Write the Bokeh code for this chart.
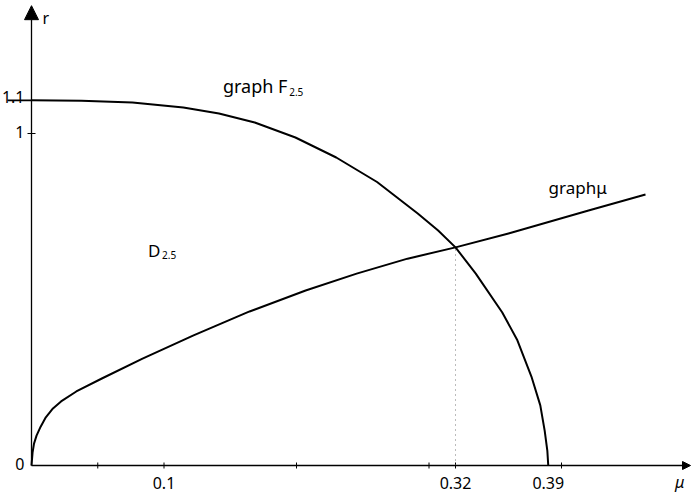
import math

from bokeh.core.properties import value
from bokeh.embed import file_html
from bokeh.models import Arrow, ColumnDataSource, NormalHead, Range1d
from bokeh.plotting import figure
from bokeh.resources import INLINE

# boundary curve F_{2.5} of the region D_{2.5}
f_mu = [0.0, 0.0377, 0.0762, 0.1146, 0.1415, 0.1685, 0.1992, 0.2300, 0.2608,
        0.2915, 0.3069, 0.32, 0.3353, 0.3553, 0.3667, 0.3773, 0.384, 0.3873,
        0.3893, 0.39]
f_r = [1.10, 1.0985, 1.0934, 1.0783, 1.0602, 1.0331, 0.988, 0.9277, 0.8539,
       0.759, 0.7078, 0.657, 0.578, 0.461, 0.377, 0.268, 0.181, 0.105,
       0.045, 0.0]

# graph of mu
g_mu = [0.0, 0.0008, 0.0019, 0.0038, 0.0069, 0.0108, 0.0162, 0.0223, 0.0338,
        0.0531, 0.0838, 0.1223, 0.1646, 0.2069, 0.2454, 0.2838, 0.32, 0.36,
        0.4204, 0.4634]
g_r = [0.0, 0.039, 0.066, 0.090, 0.117, 0.145, 0.172, 0.193, 0.223,
       0.262, 0.322, 0.392, 0.464, 0.527, 0.578, 0.623, 0.657, 0.699,
       0.768, 0.816]

# intersection of the two graphs
mu_cross = 0.32
r_cross = 0.657

# axis ticks and labels
x_tick_vals = [0.05, 0.1, 0.2, 0.3, 0.32, 0.4]
x_label_vals = [0.1, 0.32, 0.39]
x_label_text = ["0.1", "0.32", "0.39"]
y_label_vals = [0.0, 1.0, 1.1]
y_label_text = ["0", "1", "1.1"]

FONT = value("Noto Sans")

p = figure(
    width=692, height=494,
    x_range=Range1d(-31 / 1325, 661 / 1325),
    y_range=Range1d(-29 / 332, 465 / 332),
    x_axis_location=None, y_axis_location=None,
    output_backend="svg", toolbar_location=None,
    min_border=0, outline_line_color=None,
)
p.grid.visible = False
p.background_fill_color = "white"
p.border_fill_color = "white"

# axes with arrow heads
p.add_layout(Arrow(end=NormalHead(size=14, fill_color="black", line_color="black", line_width=1),
                   x_start=0, y_start=0, x_end=0, y_end=1.385,
                   line_color="black", line_width=1.3))
p.add_layout(Arrow(end=NormalHead(size=8, fill_color="black", line_color="black", line_width=1),
                   x_start=0, y_start=0, x_end=659 / 1325, y_end=0,
                   line_color="black", line_width=1.3))

# tick marks
p.dash(x=x_tick_vals, y=[0] * len(x_tick_vals), size=6, angle=math.pi / 2,
       line_color="black", line_width=1)
p.dash(x=[0], y=[1.0], size=8, line_color="black", line_width=1.2)
p.ray(x=[0], y=[1.1], length=24, length_units="screen", angle=math.pi,
      line_color="black", line_width=1.8)

# dotted guide at the crossing
p.segment(x0=[mu_cross], y0=[0], x1=[mu_cross], y1=[r_cross],
          line_color="#777777", line_width=1, line_dash="1 4")

# the two graphs
p.line(f_mu, f_r, line_color="black", line_width=2, line_join="round")
p.line(g_mu, g_r, line_color="black", line_width=2, line_join="round")

# tick labels on the mu axis
xs = ColumnDataSource(dict(x=x_label_vals, y=[0] * len(x_label_vals), t=x_label_text))
p.text(x="x", y="y", text="t", source=xs, text_align="center", text_baseline="top",
       y_offset=11, text_font=FONT, text_font_size="16px", text_color="black")

# tick labels on the r axis: "0" and "1" beside their ticks, "1.1" above its line
ys_low = ColumnDataSource(dict(x=[0, 0], y=y_label_vals[:2], t=y_label_text[:2]))
p.text(x="x", y="y", text="t", source=ys_low, text_align="right", text_baseline="middle",
       x_offset=-7, y_offset=-2, text_font=FONT, text_font_size="16px", text_color="black")
ys_top = ColumnDataSource(dict(x=[0], y=y_label_vals[2:], t=y_label_text[2:]))
p.text(x="x", y="y", text="t", source=ys_top, text_align="right", text_baseline="alphabetic",
       x_offset=-7, y_offset=-3, text_font=FONT, text_font_size="16px", text_color="black")

# axis names
p.text(x=[659 / 1325], y=[0], text=["\u03bc"], text_align="right", text_baseline="alphabetic",
       x_offset=-6, y_offset=16, text_font=FONT, text_font_style="italic",
       text_font_size="16px", text_color="black")
p.text(x=[0], y=[1.385], text=["r"], text_align="left", text_baseline="top",
       x_offset=11, y_offset=1, text_font=FONT, text_font_size="16px", text_color="black")

# curve and region names
p.text(x=[0.1445], y=[1.142], text=["graph F"], text_align="left", text_baseline="alphabetic",
       text_font=FONT, text_font_size="18px", text_color="black")
p.text(x=[0.1945], y=[1.126], text=["2.5"], text_align="left", text_baseline="alphabetic",
       text_font=FONT, text_font_size="10px", text_color="black")
p.text(x=[0.088], y=[0.649], text=["D"], text_align="left", text_baseline="alphabetic",
       text_font=FONT, text_font_size="17px", text_color="black")
p.text(x=[0.0985], y=[0.634], text=["2.5"], text_align="left", text_baseline="alphabetic",
       text_font=FONT, text_font_size="10px", text_color="black")
p.text(x=[0.3902], y=[0.838], text=["graph\u03bc"], text_align="left", text_baseline="alphabetic",
       text_font=FONT, text_font_size="17px", text_color="black")

open("out.html", "w").write(file_html(p, INLINE))
